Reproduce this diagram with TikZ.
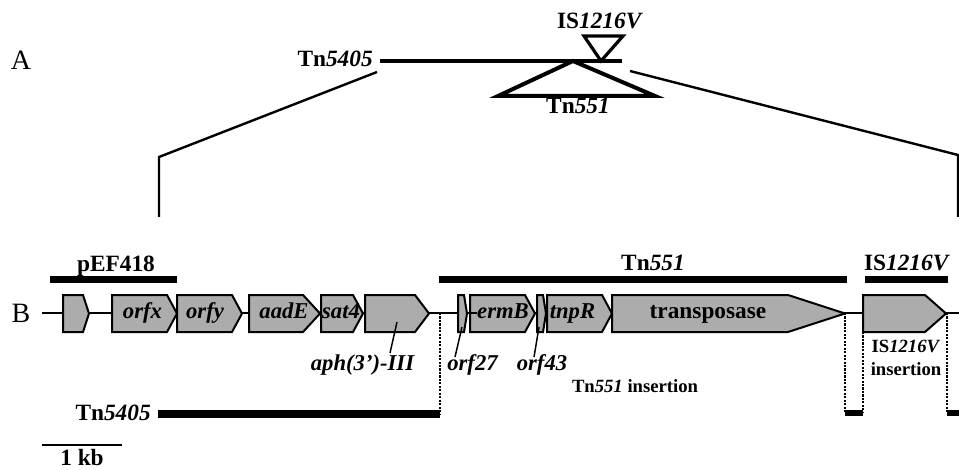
\documentclass[tikz,border=0pt]{standalone}
\usepackage{fontspec}
\setmainfont{Liberation Serif}
\definecolor{genegray}{RGB}{172,172,172}
% gene arrow: name, left x, end of body x, tip x
\newcommand\genearrow[4]{%
  \draw[gene] (#2,295) -- (#3,295) -- (#4,313.5) -- (#3,332) -- (#2,332) -- cycle;
  \coordinate (#1) at ({(#2+#4)/2},313.5);}
\begin{document}
\begin{tikzpicture}[x=0.75pt,y=-0.75pt,
  big/.style={font=\fontsize{17.5}{19}\selectfont\bfseries, inner sep=0pt},
  genelbl/.style={font=\fontsize{17}{19}\selectfont\bfseries\itshape, inner sep=0pt, anchor=base},
  small/.style={font=\fontsize{14}{17}\selectfont\bfseries, inner sep=0pt},
  panel/.style={font=\fontsize{21}{22}\selectfont, inner sep=0pt},
  gene/.style={draw=black, fill=genegray, line width=1.5pt, line join=miter},
  bar/.style={line width=5.25pt},
  backbone/.style={line width=1.1pt},
  guide/.style={densely dotted, line width=1.6pt},
  pointer/.style={line width=1.1pt},
  zoomline/.style={line width=1.8pt},
  tri/.style={line width=3pt, line join=miter}]
\useasboundingbox (0,0) rectangle (959,470);

% ---------- panel A ----------
\node[panel] (pA) at (21,60) {A};
\coordinate (aL) at (380,61);
\coordinate (aR) at (622,61);
\draw[line width=3pt] (aL) -- (aR);
\node[big, anchor=base east] (tnA) at (373,67) {Tn\textit{5405}};
% Tn551 insertion triangle
\coordinate (tnApex) at (573,61);
\coordinate (tnBR) at (655,96);
\coordinate (tnBL) at (498,96);
\draw[tri] (tnApex) -- (tnBR) -- (tnBL) -- cycle;
\node[big, anchor=base] (tn551A) at (578,114) {Tn\textit{551}};
% IS1216V insertion triangle
\coordinate (isTL) at (584,36);
\coordinate (isTR) at (623,36);
\coordinate (isApex) at (601,61);
\draw[tri, line width=2.4pt] (isTL) -- (isTR) -- (isApex) -- cycle;
\node[big, anchor=base] (isA) at (600,29) {IS\textit{1216V}};

% expansion lines from A to B
\coordinate (zL1) at (377,72);
\coordinate (zL2) at (159,157);
\coordinate (zL3) at (159,217);
\coordinate (zR1) at (630,71);
\coordinate (zR2) at (958,155);
\coordinate (zR3) at (958,217);
\draw[zoomline] (zL1) -- (zL2) -- (zL3);
\draw[zoomline] (zR1) -- (zR2) -- (zR3);

% ---------- panel B ----------
\node[panel] (pB) at (21,313) {B};
\coordinate (bbL) at (42,313);
\coordinate (bbR) at (959,313);
\draw[backbone] (bbL) -- (bbR);

% segment bars
\coordinate (pefL) at (50,279);   \coordinate (pefR) at (177,279);
\coordinate (tnbL) at (439,279);  \coordinate (tnbR) at (847,279);
\coordinate (isbL) at (865,279);  \coordinate (isbR) at (948,279);
\draw[bar] (pefL) -- (pefR);
\draw[bar] (tnbL) -- (tnbR);
\draw[bar] (isbL) -- (isbR);
\node[big, anchor=base] (pefLbl) at (116,271) {pEF418};
\node[big, anchor=base] (tnbLbl) at (653,270) {Tn\textit{551}};
\node[big, anchor=base] (isbLbl) at (907,270) {IS\textit{1216V}};

% genes
\genearrow{g1}{63}{83}{89}
\genearrow{orfx}{112}{167}{177}
\genearrow{orfy}{177}{232}{242}
\genearrow{aadE}{249}{303}{320}
\genearrow{sat4}{321}{353}{363}
\genearrow{aph}{365}{415}{429}
\genearrow{orf27}{458}{464}{467}
\genearrow{ermB}{470}{525}{535}
\genearrow{orf43}{537}{543}{546}
\genearrow{tnpR}{547}{602}{612}
\genearrow{tnp}{612}{788}{845}
\genearrow{isg}{863}{925}{946}
\coordinate (dashL) at (470,313);
\coordinate (dashR) at (477,313);
\draw[backbone] (dashL) -- (dashR);

\node[genelbl] (orfxLbl) at (142.5,318) {orfx};
\node[genelbl] (orfyLbl) at (205,318) {orfy};
\node[genelbl] (aadELbl) at (284,318) {aadE};
\node[genelbl] (sat4Lbl) at (341,318) {sat4};
\node[genelbl] (ermBLbl) at (503,318) {ermB};
\node[genelbl] (tnpRLbl) at (572.5,318) {tnpR};
\node[big, anchor=base] (tnpLbl) at (708,318) {transposase};

% labels below the map with pointers
\node[genelbl] (aphLbl) at (362.5,370) {aph(3')-III};
\node[genelbl] (orf27Lbl) at (472.5,370) {orf27};
\node[genelbl] (orf43Lbl) at (542,370) {orf43};
\coordinate (aphP) at (397,322);   \coordinate (aphQ) at (390,353);
\coordinate (o27P) at (462,327);   \coordinate (o27Q) at (455,357);
\coordinate (o43P) at (539,327);   \coordinate (o43Q) at (534,357);
\draw[pointer] (aphP) -- (aphQ);
\draw[pointer] (o27P) -- (o27Q);
\draw[pointer] (o43P) -- (o43Q);

% insertion boundaries
\coordinate (d1t) at (440,313);  \coordinate (d1b) at (440,414);
\coordinate (d2t) at (845,313);  \coordinate (d2b) at (845,413);
\coordinate (d3t) at (863,332);  \coordinate (d3b) at (863,413);
\coordinate (d4t) at (947,313);  \coordinate (d4b) at (947,413);
\coordinate (d5b) at (959,413);
\draw[guide] (d1t) -- (d1b);
\draw[guide] (d2t) -- (d2b);
\draw[guide] (d3t) -- (d3b);
\draw[guide] (d4t) -- (d4b);
\draw[line width=4pt] (d2b) -- (d3b);
\draw[line width=4pt] (d4b) -- (d5b);
\node[small, anchor=base] (tnIns) at (635,392) {Tn\textit{551} insertion};
\node[small, align=center, anchor=base] (isIns) at (906,375) {IS\textit{1216V}\\insertion};

% Tn5405 extent
\coordinate (t5L) at (158,414);
\draw[line width=6pt] (t5L) -- (d1b);
\node[big, anchor=base east] (t5Lbl) at (151,420) {Tn\textit{5405}};

% scale bar
\coordinate (sbL) at (42,445);
\coordinate (sbR) at (122,445);
\draw[line width=1.5pt] (sbL) -- (sbR);
\node[big, anchor=base] (sbLbl) at (82,465.5) {1 kb};
\end{tikzpicture}
\end{document}
